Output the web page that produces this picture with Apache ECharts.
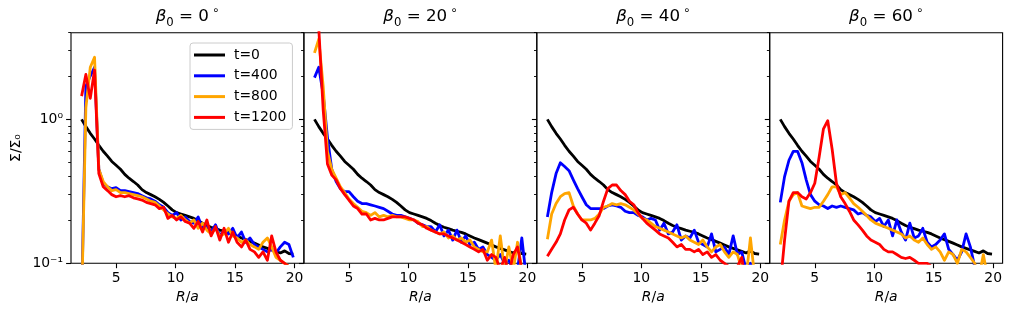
<!DOCTYPE html>
<html><head><meta charset="utf-8">
<script src="https://cdn.jsdelivr.net/npm/echarts@6/dist/echarts.min.js"></script>
<style>html,body{margin:0;padding:0;background:#fff}#c{width:1013px;height:317px}</style>
</head><body><div id="c"></div>
<script>
// ---- data ----
const R = [2.10, 2.46, 2.83, 3.19, 3.55, 3.92, 4.28, 4.64, 5.00, 5.37, 5.73, 6.09, 6.46, 6.82, 7.18, 7.55, 7.91, 8.27, 8.64, 9.00,
           9.36, 9.72, 10.09, 10.45, 10.81, 11.18, 11.54, 11.90, 12.27, 12.63, 12.99, 13.36, 13.72, 14.08, 14.45, 14.81, 15.17, 15.54, 15.90, 16.26,
           16.63, 16.99, 17.35, 17.72, 18.08, 18.44, 18.81, 19.17, 19.53, 19.90];
const times = ['t=0', 't=400', 't=800', 't=1200'];
const angles = ['0', '20', '40', '60'];
const xTicks = [5, 10, 15, 20];
const yMajor = [0.1, 1];
const yMinor = [0.2, 0.3, 0.4, 0.5, 0.6, 0.7, 0.8, 0.9, 2, 3, 4];

// t=0 (initial profile, same for all panels)
const sigmaInit = [1.00, 0.89, 0.80, 0.73, 0.66, 0.60, 0.555, 0.51, 0.48, 0.45, 0.415, 0.39, 0.37, 0.35, 0.325, 0.31, 0.30, 0.29, 0.278, 0.265,
  0.25, 0.235, 0.225, 0.22, 0.215, 0.21, 0.205, 0.198, 0.19, 0.183, 0.178, 0.174, 0.17, 0.167, 0.164, 0.16, 0.155, 0.15, 0.146, 0.142,
  0.138, 0.134, 0.13, 0.127, 0.124, 0.121, 0.118, 0.122, 0.117, 0.116];

// beta0 = 0
const b0_t400 = [0.05, 1.7, 2.0, 2.3, 0.45, 0.36, 0.34, 0.33, 0.335, 0.32, 0.32, 0.315, 0.31, 0.305, 0.295, 0.285, 0.28, 0.27, 0.255, 0.245,
  0.225, 0.215, 0.225, 0.2, 0.21, 0.195, 0.19, 0.21, 0.175, 0.18, 0.165, 0.185, 0.155, 0.17, 0.16, 0.175, 0.15, 0.165, 0.14, 0.15,
  0.135, 0.13, 0.125, 0.12, 0.125, 0.118, 0.13, 0.14, 0.135, 0.11];
const b0_t800 = [0.05, 1.2, 2.3, 2.7, 0.45, 0.37, 0.34, 0.32, 0.325, 0.31, 0.31, 0.305, 0.30, 0.295, 0.29, 0.28, 0.27, 0.265, 0.25, 0.235,
  0.22, 0.21, 0.205, 0.215, 0.2, 0.19, 0.2, 0.175, 0.19, 0.17, 0.16, 0.175, 0.155, 0.16, 0.175, 0.155, 0.15, 0.14, 0.145, 0.135,
  0.13, 0.125, 0.14, 0.15, 0.13, 0.11, 0.105, 0.1, 0.095, 0.09];
const b0_t1200 = [1.45, 2.05, 1.4, 2.2, 0.42, 0.34, 0.32, 0.30, 0.29, 0.295, 0.29, 0.295, 0.285, 0.28, 0.275, 0.265, 0.26, 0.255, 0.24, 0.245,
  0.205, 0.215, 0.2, 0.21, 0.195, 0.19, 0.175, 0.195, 0.165, 0.2, 0.155, 0.18, 0.145, 0.175, 0.14, 0.165, 0.14, 0.13, 0.145, 0.125,
  0.12, 0.11, 0.12, 0.105, 0.155, 0.12, 0.105, 0.1, 0.095, 0.09];

// beta0 = 20
const b20_t400 = [1.95, 2.3, 1.5, 0.75, 0.45, 0.37, 0.33, 0.315, 0.315, 0.29, 0.27, 0.26, 0.26, 0.255, 0.25, 0.245, 0.24, 0.23, 0.22, 0.215,
  0.215, 0.21, 0.205, 0.2, 0.19, 0.185, 0.18, 0.18, 0.165, 0.185, 0.155, 0.17, 0.145, 0.17, 0.14, 0.155, 0.135, 0.14, 0.125, 0.13,
  0.115, 0.11, 0.105, 0.115, 0.1, 0.105, 0.09, 0.09, 0.15, 0.08];
const b20_t800 = [2.9, 3.6, 1.7, 0.6, 0.45, 0.39, 0.34, 0.31, 0.28, 0.26, 0.245, 0.23, 0.225, 0.215, 0.225, 0.21, 0.215, 0.21, 0.215, 0.21,
  0.21, 0.205, 0.2, 0.2, 0.195, 0.18, 0.18, 0.17, 0.165, 0.16, 0.165, 0.15, 0.155, 0.145, 0.15, 0.14, 0.145, 0.13, 0.125, 0.12,
  0.12, 0.145, 0.09, 0.155, 0.09, 0.13, 0.09, 0.14, 0.09, 0.08];
const b20_t1200 = [6.0, 4.3, 1.17, 0.49, 0.41, 0.38, 0.33, 0.30, 0.275, 0.25, 0.24, 0.22, 0.22, 0.2, 0.205, 0.2, 0.2, 0.205, 0.21, 0.21,
  0.21, 0.21, 0.205, 0.2, 0.19, 0.185, 0.175, 0.17, 0.165, 0.16, 0.16, 0.155, 0.15, 0.145, 0.14, 0.135, 0.13, 0.125, 0.12, 0.125,
  0.105, 0.115, 0.11, 0.09, 0.11, 0.085, 0.115, 0.13, 0.09, 0.08];

// beta0 = 40
const b40_t400 = [0.21, 0.31, 0.42, 0.5, 0.47, 0.44, 0.38, 0.33, 0.29, 0.255, 0.24, 0.24, 0.24, 0.24, 0.25, 0.255, 0.25, 0.245, 0.23, 0.225,
  0.225, 0.215, 0.21, 0.2, 0.205, 0.2, 0.17, 0.19, 0.16, 0.165, 0.185, 0.145, 0.155, 0.15, 0.17, 0.14, 0.135, 0.13, 0.16, 0.12,
  0.125, 0.13, 0.115, 0.155, 0.115, 0.12, 0.09, 0.1, 0.08, 0.07];
const b40_t800 = [0.147, 0.22, 0.26, 0.29, 0.305, 0.31, 0.25, 0.22, 0.2, 0.2, 0.2, 0.205, 0.22, 0.245, 0.25, 0.26, 0.255, 0.26, 0.255, 0.245,
  0.235, 0.22, 0.205, 0.2, 0.19, 0.18, 0.175, 0.17, 0.165, 0.16, 0.155, 0.15, 0.155, 0.145, 0.14, 0.135, 0.145, 0.13, 0.12, 0.13,
  0.135, 0.12, 0.11, 0.12, 0.115, 0.09, 0.08, 0.15, 0.08, 0.07];
const b40_t1200 = [0.112, 0.125, 0.14, 0.16, 0.2, 0.235, 0.245, 0.22, 0.2, 0.19, 0.17, 0.19, 0.215, 0.27, 0.33, 0.35, 0.35, 0.32, 0.3, 0.27,
  0.255, 0.225, 0.205, 0.19, 0.18, 0.17, 0.16, 0.155, 0.15, 0.14, 0.13, 0.135, 0.125, 0.125, 0.12, 0.125, 0.115, 0.12, 0.11, 0.115,
  0.105, 0.1, 0.095, 0.08, 0.095, 0.11, 0.07, 0.06, 0.06, 0.06];

// beta0 = 60
const b60_t400 = [0.265, 0.4, 0.52, 0.6, 0.6, 0.5, 0.38, 0.3, 0.27, 0.255, 0.25, 0.24, 0.25, 0.245, 0.25, 0.245, 0.24, 0.235, 0.22, 0.225,
  0.215, 0.21, 0.195, 0.205, 0.18, 0.2, 0.155, 0.2, 0.165, 0.145, 0.19, 0.15, 0.155, 0.175, 0.14, 0.13, 0.135, 0.145, 0.16, 0.125,
  0.115, 0.105, 0.12, 0.16, 0.13, 0.095, 0.08, 0.07, 0.07, 0.07];
const b60_t800 = [0.135, 0.2, 0.27, 0.3, 0.31, 0.25, 0.245, 0.24, 0.245, 0.245, 0.27, 0.3, 0.34, 0.34, 0.3, 0.31, 0.285, 0.26, 0.245, 0.23,
  0.215, 0.2, 0.19, 0.185, 0.18, 0.175, 0.17, 0.165, 0.16, 0.15, 0.155, 0.145, 0.14, 0.15, 0.135, 0.125, 0.13, 0.12, 0.105, 0.12,
  0.115, 0.1, 0.125, 0.12, 0.11, 0.1, 0.08, 0.115, 0.08, 0.07];
const b60_t1200 = [0.07, 0.145, 0.27, 0.31, 0.31, 0.29, 0.28, 0.31, 0.36, 0.55, 0.86, 0.98, 0.62, 0.36, 0.29, 0.26, 0.23, 0.2, 0.185, 0.17,
  0.155, 0.145, 0.14, 0.135, 0.125, 0.12, 0.12, 0.115, 0.11, 0.108, 0.11, 0.105, 0.1, 0.1, 0.1, 0.095, 0.09, 0.085, 0.08, 0.08,
  0.07, 0.07, 0.07, 0.07, 0.07, 0.07, 0.07, 0.07, 0.07, 0.07];

const panels = [
  [sigmaInit, b0_t400, b0_t800, b0_t1200],
  [sigmaInit, b20_t400, b20_t800, b20_t1200],
  [sigmaInit, b40_t400, b40_t800, b40_t1200],
  [sigmaInit, b60_t400, b60_t800, b60_t1200]
];

// ---- styling / layout ----
const colors = ['#000000', '#0000ff', '#ffa500', '#ff0000'];
const FONT = 'DejaVu Sans';
const L0 = 71, W = 232.9, T = 32.7, H = 230.6;
const SUP = {'-': '⁻', '0': '⁰', '1': '¹', '2': '²', '3': '³'};
function powLabel(v) {
  const e = String(Math.round(Math.log10(v)));
  return '10' + e.split('').map(c => SUP[c]).join('');
}

const grids = [], xAxes = [], yAxes = [], series = [], graphics = [];
panels.forEach((sets, i) => {
  grids.push({left: L0 + W * i, top: T, width: W, height: H, show: true, borderColor: '#000', borderWidth: 1.1,
    backgroundColor: 'transparent', containLabel: false, outerBoundsMode: 'none'});
  xAxes.push({
    type: 'value', gridIndex: i, min: 1.21, max: 20.79, position: 'bottom',
    splitLine: {show: false}, axisLine: {show: false},
    axisTick: {show: true, inside: false, length: 4.9, lineStyle: {color: '#000', width: 1.1}, customValues: xTicks},
    axisLabel: {show: true, customValues: xTicks, color: '#000', fontSize: 13.9, fontFamily: FONT, margin: 8},
    name: '{i|R}{n|/}{i|a}', nameLocation: 'middle', nameGap: 26,
    nameTextStyle: {color: '#000', fontSize: 13.9, fontFamily: FONT,
      rich: {i: {fontStyle: 'italic', fontSize: 13.9, fontFamily: FONT, color: '#000'},
             n: {fontSize: 13.9, fontFamily: FONT, color: '#000'}}}
  });
  yAxes.push({
    type: 'log', logBase: 10, gridIndex: i, min: 0.1, max: 4, position: 'left',
    splitLine: {show: false}, axisLine: {show: false},
    axisTick: {show: true, inside: false, length: 4.9, lineStyle: {color: '#000', width: 1.1}, customValues: yMajor},
    axisLabel: {show: i === 0, customValues: yMajor, color: '#000', fontSize: 13.9, fontFamily: FONT, margin: 8,
      formatter: v => powLabel(v)},
    name: i === 0 ? 'Σ/Σ₀' : '', nameLocation: 'middle', nameGap: 48, nameRotate: 90,
    nameTextStyle: {color: '#000', fontSize: 13.9, fontFamily: FONT}
  });
  yAxes.push({
    type: 'log', logBase: 10, gridIndex: i, min: 0.1, max: 4, position: 'left', offset: 0,
    splitLine: {show: false}, axisLine: {show: false},
    axisTick: {show: true, inside: false, length: 2.8, lineStyle: {color: '#000', width: 0.9}, customValues: yMinor},
    axisLabel: {show: false}
  });
  sets.forEach((vals, k) => {
    series.push({
      type: 'line', name: times[k], xAxisIndex: i, yAxisIndex: 2 * i,
      data: R.map((r, j) => [r, vals[j]]),
      symbol: 'none', showSymbol: false, clip: true, smooth: false,
      color: colors[k],
      itemStyle: {color: colors[k]},
      lineStyle: {color: colors[k], width: 2.8, join: 'round', cap: 'butt'},
      emphasis: {disabled: true}, silent: true, z: 2 + k
    });
  });
  graphics.push({
    type: 'text', x: L0 + W * i + W / 2, y: 17, z: 100,
    style: {
      text: '{g|β}{s|0}{n| = ' + angles[i] + '}{d|∘}',
      align: 'center', verticalAlign: 'middle',
      rich: {
        g: {fontStyle: 'italic', fontSize: 16.7, fontFamily: FONT, lineHeight: 24, fill: '#000', verticalAlign: 'middle'},
        s: {fontSize: 11.7, fontFamily: FONT, lineHeight: 13, fill: '#000', verticalAlign: 'bottom'},
        n: {fontSize: 16.7, fontFamily: FONT, lineHeight: 24, fill: '#000', verticalAlign: 'middle'},
        d: {fontSize: 11.7, fontFamily: FONT, lineHeight: 11, fill: '#000', verticalAlign: 'top', padding: [0, 0, 0, 3]}
      }
    }
  });
});

const chart = echarts.init(document.getElementById('c'), null, {renderer: 'canvas'});
chart.setOption({
  animation: false,
  backgroundColor: '#ffffff',
  grid: grids, xAxis: xAxes, yAxis: yAxes, series: series,
  graphic: graphics,
  legend: {
    show: true, data: times, orient: 'vertical', left: 190, top: 43,
    itemWidth: 31, itemHeight: 3, icon: 'rect', itemGap: 4.8,
    padding: [4, 6, 4, 4], backgroundColor: 'rgba(255,255,255,0.8)',
    borderColor: '#cccccc', borderWidth: 1, borderRadius: 3, selectedMode: false,
    textStyle: {fontSize: 13.9, fontFamily: FONT, color: '#000', lineHeight: 16, padding: [0, 0, 0, 4]}
  }
});
</script></body></html>
